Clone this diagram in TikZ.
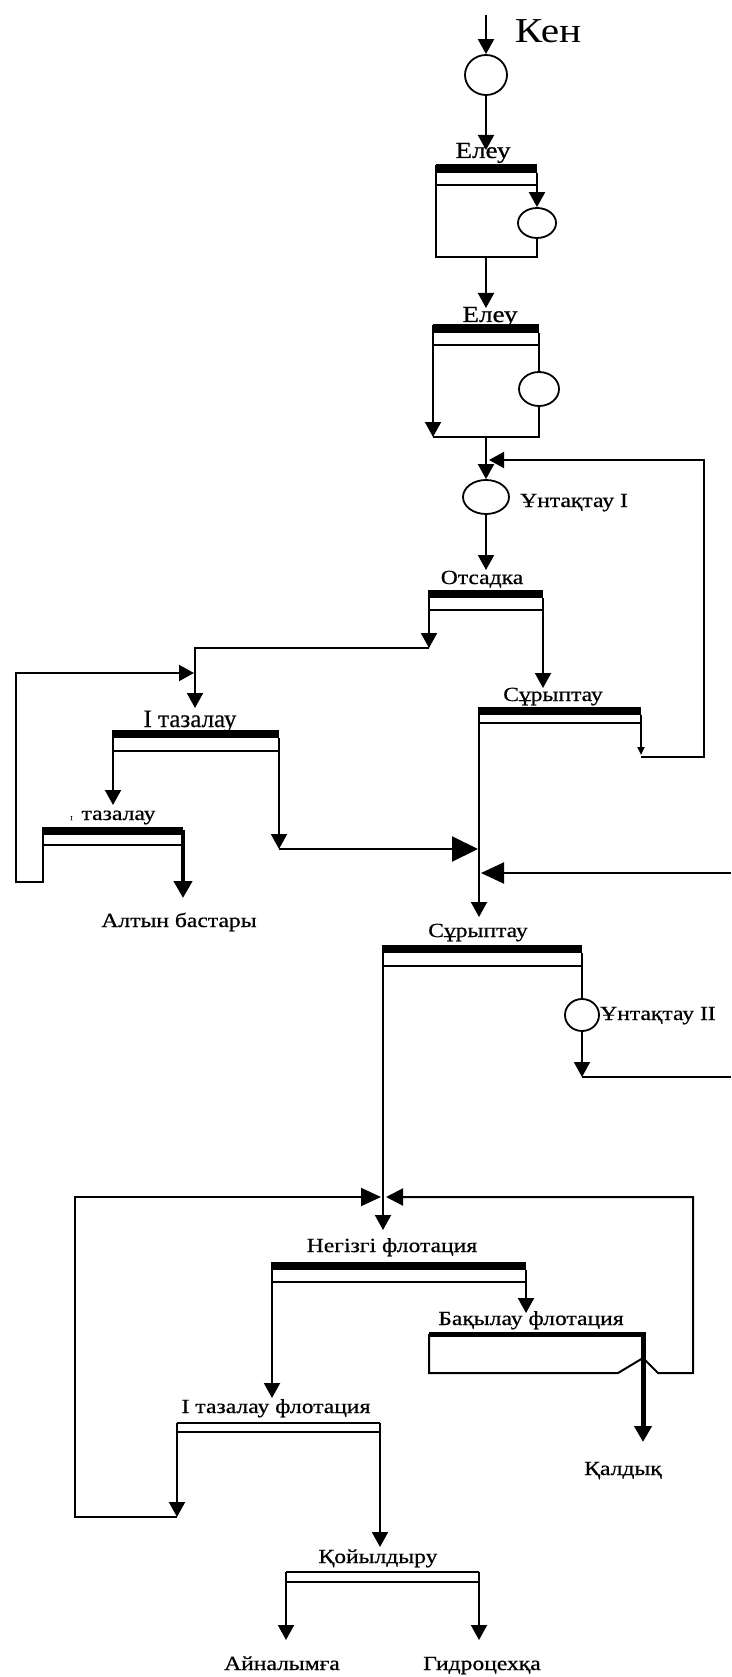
\documentclass[tikz,border=0pt]{standalone}
\usepackage{fontspec}
\setmainfont{Liberation Serif}[FakeBold=0.5]
\newfontfamily\lf{Liberation Serif}[FakeStretch=1.18,FakeBold=0.7]
\newfontfamily\lfk{Liberation Serif}[FakeStretch=1.18]
\usetikzlibrary{arrows.meta,shapes.geometric}
\tikzset{
  ln/.style={line width=2pt, line join=miter},
  ar/.style={ln, -{Triangle[length=15pt,width=16pt]}},
  sar/.style={ln, -{Triangle[length=8pt,width=7pt]}},
  midar/.style={ln, -{Triangle[length=20pt,width=18pt]}},
  bigar/.style={ln, -{Triangle[length=26pt,width=25pt]}},
  thickar/.style={line width=4.5pt, -{Triangle[length=17pt,width=18pt]}},
  ell/.style={draw, ellipse, line width=1.8pt, inner sep=0pt, fill=white},
  lbl/.style={font=\lf\fontsize{20}{24}\selectfont, inner sep=0pt, anchor=base},
}
\begin{document}
\begin{tikzpicture}[x=1pt,y=-1pt]
\useasboundingbox (0,0) rectangle (731,1677);

% ---------- feed ----------
\coordinate (feed) at (486,15);
\node[ell, minimum width=42pt, minimum height=40pt] (c0) at (486,75) {};
\node[lbl, font=\lfk\fontsize{35}{40}\selectfont] (ken) at (548,43) {Кен};
\draw[ar] (feed) -- (c0.north);

% ---------- Елеу 1 ----------
\coordinate (B1in) at (486,150);
\draw[ar] (c0.south) -- (B1in);
\node[lbl, font=\lf\fontsize{23}{26}\selectfont] (l1) at (483,158) {Елеу};
\fill (436,164) rectangle (537,173);
\draw[ln] (436,185) -- (537,185);
\coordinate (B1L) at (436,165);
\coordinate (B1R) at (537,173);
\coordinate (B1BL) at (436,257);
\coordinate (B1BR) at (537,257);
\coordinate (B1out) at (486,257);
\node[ell, minimum width=38pt, minimum height=30pt] (e1) at (537,223) {};
\draw[ln] (B1L) -- (B1BL) -- (B1BR) -- (e1.south);
\draw[ar] (B1R) -- (e1.north);

% ---------- Елеу 2 ----------
\coordinate (B2in) at (486,308);
\draw[ar] (B1out) -- (B2in);
\node[lbl, font=\lf\fontsize{23}{26}\selectfont] (l2) at (490,322) {Елеу};
\fill (433,324) rectangle (539,333);
\draw[ln] (433,345) -- (539,345);
\coordinate (B2L) at (433,325);
\coordinate (B2R) at (539,333);
\coordinate (B2BL) at (433,437);
\coordinate (B2BR) at (539,437);
\coordinate (B2out) at (486,437);
\node[ell, minimum width=40pt, minimum height=34pt] (e2) at (539,389) {};
\draw[ar] (B2L) -- (B2BL);
\draw[ln] (B2BL) -- (B2BR) -- (e2.south);
\draw[ln] (B2R) -- (e2.north);

% ---------- Ұнтақтау I ----------
\node[ell, minimum width=46pt, minimum height=34pt] (u1) at (486,497) {};
\node[lbl, anchor=base west] (lu1) at (520,507) {Ұнтақтау I};
\draw[ar] (B2out) -- (u1.north);
\coordinate (u1side) at (489,460);
\coordinate (rcTop) at (704,460);

% ---------- Отсадка ----------
\coordinate (B3in) at (486,570);
\draw[ar] (u1.south) -- (B3in);
\node[lbl] (l3) at (482,584) {Отсадка};
\fill (429,590) rectangle (543,598);
\draw[ln] (429,610) -- (543,610);
\coordinate (B3L) at (429,590);
\coordinate (B3R) at (543,598);
\coordinate (B3Lo) at (429,648);
\coordinate (B3Ro) at (543,688);
\coordinate (T1in) at (195,708);
\draw[ar] (B3L) -- (B3Lo);
\draw[ar] (B3Lo) -| (T1in);
\draw[ar] (B3R) -- (B3Ro);

% ---------- Сұрыптау 1 ----------
\node[lbl] (l4) at (553,701) {Сұрыптау};
\fill (479,707) rectangle (641,715);
\draw[ln] (479,723) -- (641,723);
\coordinate (S1L) at (479,707);
\coordinate (S1R) at (641,715);
\coordinate (S1Ro) at (641,755);
\coordinate (S1Rh) at (641,757);
\draw[sar] (S1R) -- (S1Ro);
\draw[ar] (S1Rh) -| (rcTop) -- (u1side);

% ---------- I тазалау ----------
\node[inner sep=0pt, anchor=base, font=\fontsize{25}{28}\selectfont] (l5) at (190,727) {I тазалау};
\fill (113,730) rectangle (279,738);
\draw[ln] (113,751) -- (279,751);
\coordinate (T1L) at (113,730);
\coordinate (T1R) at (279,738);
\coordinate (T1Lo) at (113,805);
\coordinate (T1Ro) at (279,849);
\coordinate (J1) at (478,849);
\draw[ar] (T1L) -- (T1Lo);
\draw[ar] (T1R) -- (T1Ro);
\draw[bigar] (T1Ro) -- (J1);

% ---------- II тазалау ----------
\node[lbl, anchor=base west] (l6) at (70,820) {{\fontsize{6}{6}\selectfont I}\hspace{9pt}тазалау};
\fill (43,827) rectangle (183,835);
\draw[ln] (43,845) -- (183,845);
\coordinate (T2L) at (43,827);
\coordinate (T2Lo) at (43,882);
\coordinate (lp1) at (16,882);
\coordinate (lp2) at (16,673);
\coordinate (T1side) at (194,673);
\draw[ar] (T2L) -- (T2Lo) -- (lp1) -- (lp2) -- (T1side);
\coordinate (T2R) at (183,830);
\coordinate (gold) at (183,898);
\draw[thickar] (T2R) -- (gold);
\node[lbl] (l7) at (179,927) {Алтын бастары};

% ---------- right input ----------
\coordinate (rin) at (731,873);
\coordinate (J2) at (481,873);
\draw[ln, -{Triangle[length=23pt,width=21pt]}] (rin) -- (J2);

% ---------- Сұрыптау 2 ----------
\coordinate (S2in) at (479,917);
\draw[ar] (S1L) -- (S2in);
\node[lbl] (l8) at (478,937) {Сұрыптау};
\fill (383,945) rectangle (582,953);
\draw[ln] (383,966) -- (582,966);
\coordinate (S2L) at (383,945);
\coordinate (S2R) at (582,953);
\node[ell, minimum width=34pt, minimum height=32pt] (u2) at (582,1015) {};
\node[lbl, anchor=base west] (lu2) at (600,1020) {Ұнтақтау II};
\coordinate (u2o) at (582,1077);
\coordinate (rout) at (731,1077);
\draw[ln] (S2R) -- (u2.north);
\draw[ar] (u2.south) -- (u2o);
\draw[ln] (u2o) -- (rout);

% ---------- Негізгі флотация ----------
\coordinate (N1in) at (383,1230);
\draw[ar] (S2L) -- (N1in);
\node[lbl] (l9) at (392,1252) {Негізгі флотация};
\fill (272,1262) rectangle (526,1270);
\draw[ln] (272,1282) -- (526,1282);
\coordinate (N1L) at (272,1262);
\coordinate (N1R) at (526,1270);
\coordinate (T3in) at (272,1398);
\coordinate (K1in) at (526,1313);
\draw[ar] (N1L) -- (T3in);
\draw[ar] (N1R) -- (K1in);

% ---------- Бақылау флотация ----------
\node[lbl] (l10) at (531,1325) {Бақылау флотация};
\coordinate (K1TL) at (429,1334);
\coordinate (K1TR) at (643,1334);
\draw[line width=5pt] (K1TL) -- (K1TR);
\coordinate (K1BL) at (429,1373);
\coordinate (h1) at (618,1373);
\coordinate (h2) at (643,1358);
\coordinate (h3) at (658,1373);
\coordinate (K1r) at (693,1373);
\coordinate (rp) at (693,1197);
\coordinate (jR) at (386,1197);
\draw[ln, -{Triangle[length=17pt,width=17pt]}] (K1TL) -- (K1BL) -- (h1) -- (h2) -- (h3) -- (K1r) -- (rp) -- (jR);
\coordinate (K1T) at (643,1332);
\coordinate (tail) at (643,1442);
\draw[line width=5pt, -{Triangle[length=16pt,width=17pt]}] (K1T) -- (tail);
\node[lbl] (l11) at (623,1475) {Қалдық};

% ---------- I тазалау флотация ----------
\node[lbl] (l12) at (276,1413) {I тазалау флотация};
\draw[ln] (177,1423) -- (380,1423);
\draw[ln] (177,1432) -- (380,1432);
\coordinate (T3L) at (177,1423);
\coordinate (T3R) at (380,1423);
\coordinate (T3Lo) at (177,1517);
\coordinate (lp3) at (75,1517);
\coordinate (lp4) at (75,1197);
\coordinate (jL) at (381,1197);
\coordinate (Q1in) at (380,1547);
\draw[ar] (T3L) -- (T3Lo);
\draw[midar] (T3Lo) -- (lp3) -- (lp4) -- (jL);
\draw[ar] (T3R) -- (Q1in);

% ---------- Қойылдыру ----------
\node[lbl] (l13) at (378,1563) {Қойылдыру};
\draw[ln] (286,1572) -- (479,1572);
\draw[ln] (286,1582) -- (479,1582);
\coordinate (Q1L) at (286,1572);
\coordinate (Q1R) at (479,1572);
\coordinate (A1) at (286,1640);
\coordinate (G1) at (479,1640);
\draw[ar] (Q1L) -- (A1);
\draw[ar] (Q1R) -- (G1);
\node[lbl] (l14) at (282,1670) {Айналымға};
\node[lbl] (l15) at (482,1670) {Гидроцехқа};
\end{tikzpicture}
\end{document}
